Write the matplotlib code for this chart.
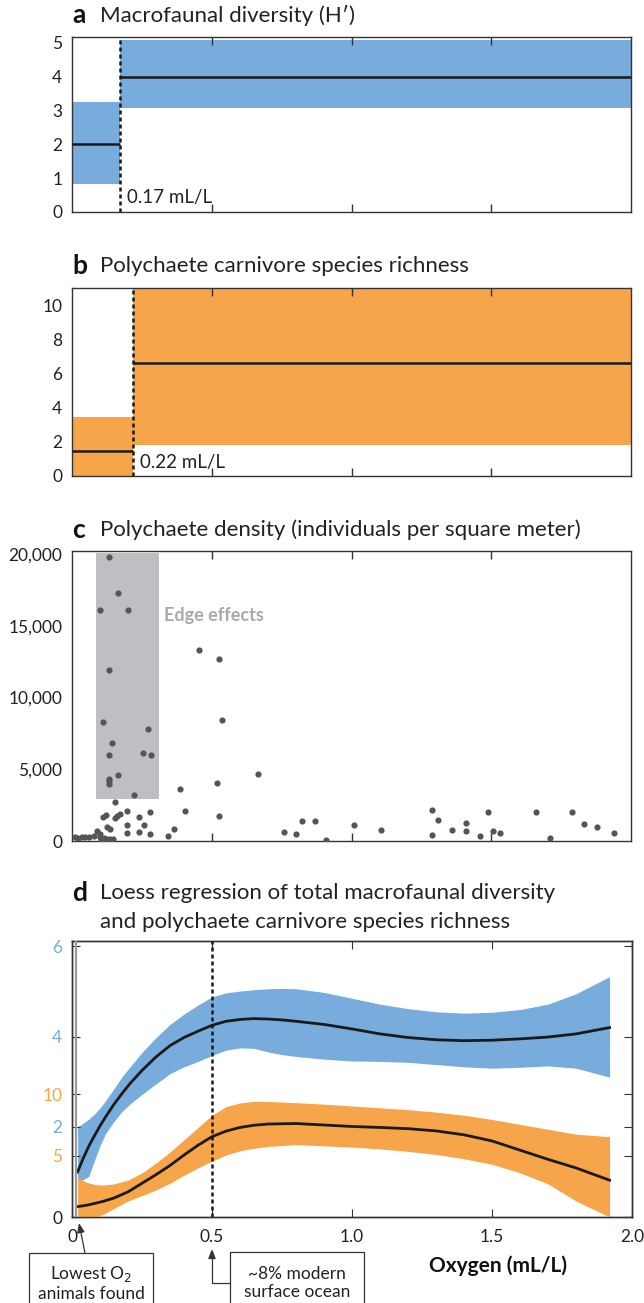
import matplotlib.pyplot as plt

plt.rcParams['font.family'] = ['Lato', 'DejaVu Sans']

W, H = 644, 1303
BLUE = '#78acdc'
ORANGE = '#f7a54a'
GREY_BOX = '#bebfc2'
DOT = '#555555'
AXC = '#333333'
TXT = '#222222'

# ---- panel a: macrofaunal diversity (H'), split at 0.17 mL/L
a_split = 0.17
a_x0 = [0.0, 0.17]
a_x1 = [0.17, 2.0]
a_low = [0.82, 3.08]
a_high = [3.25, 5.09]
a_med = [2.0, 4.0]

# ---- panel b: polychaete carnivore species richness, split at 0.22 mL/L
b_split = 0.22
b_x0 = [0.0, 0.22]
b_x1 = [0.22, 2.0]
b_low = [0.0, 1.8]
b_high = [3.45, 11.0]
b_med = [1.45, 6.6]

# ---- panel c: polychaete density (ind. per m^2)
c_oxy = [0.131, 0.163, 0.101, 0.202, 0.131, 0.112, 0.273, 0.142, 0.133, 0.253,
         0.284, 0.163, 0.133, 0.133, 0.133, 0.222, 0.455, 0.526, 0.536, 0.667,
         0.517, 0.386, 0.405, 0.526, 0.345, 0.365, 0.153, 0.197, 0.279, 0.239,
         0.110, 0.120, 0.155, 0.160, 0.170, 0.197, 0.257, 0.126, 0.135, 0.088,
         0.197, 0.239, 0.279, 0.011, 0.023, 0.035, 0.047, 0.062, 0.077, 0.100,
         0.105, 0.115, 0.125, 0.135, 0.145, 0.100, 0.759, 0.801, 0.822, 0.868,
         0.907, 1.008, 1.107, 1.289, 1.309, 1.289, 1.359, 1.408, 1.408, 1.459,
         1.489, 1.508, 1.530, 1.660, 1.709, 1.790, 1.831, 1.879, 1.939]
c_dens = [19800, 17300, 16100, 16100, 11900, 8300, 7800, 6800, 6000, 6100,
          6000, 4600, 4350, 4150, 3950, 3200, 13300, 12700, 8450, 4700,
          4050, 3600, 2100, 1750, 350, 830, 2750, 2100, 2050, 1670,
          1680, 1800, 1620, 1750, 1880, 1120, 1120, 980, 840, 700,
          560, 650, 490, 250, 200, 250, 250, 280, 350, 300,
          150, 200, 120, 150, 130, 500, 650, 500, 1370, 1370,
          70, 1110, 740, 2130, 1480, 440, 740, 1280, 700, 350,
          2040, 700, 560, 2020, 230, 2000, 1200, 950, 530]
c_edge_x = [0.087, 0.31]
c_edge_y = [2950, 20050]

# ---- panel d: loess fits with confidence bands
# total macrofaunal diversity (left scale, blue)
d_bx = [0.02, 0.04, 0.06, 0.08, 0.1, 0.12, 0.15, 0.18, 0.21, 0.25, 0.3,
        0.35, 0.4, 0.45, 0.5, 0.55, 0.6, 0.65, 0.7, 0.75, 0.8, 0.9,
        1.0, 1.1, 1.2, 1.3, 1.4, 1.5, 1.6, 1.7, 1.8, 1.92]
d_blue = [1.0, 1.3, 1.57, 1.8, 2.02, 2.22, 2.5, 2.75, 2.98, 3.25, 3.55,
          3.8, 3.98, 4.12, 4.25, 4.34, 4.38, 4.4, 4.39, 4.37, 4.34, 4.27,
          4.17, 4.06, 3.98, 3.93, 3.91, 3.92, 3.95, 3.99, 4.06, 4.2]
d_blue_hi = [2.0, 2.08, 2.17, 2.28, 2.42, 2.58, 2.85, 3.12, 3.35, 3.65, 3.98,
             4.27, 4.5, 4.7, 4.88, 4.97, 5.01, 5.04, 5.06, 5.07, 5.06, 4.98,
             4.85, 4.72, 4.62, 4.55, 4.52, 4.54, 4.6, 4.72, 4.95, 5.33]
d_blue_lo = [0.82, 0.83, 0.9, 1.25, 1.58, 1.85, 2.12, 2.35, 2.52, 2.72, 2.95,
             3.18, 3.33, 3.45, 3.58, 3.7, 3.75, 3.74, 3.66, 3.6, 3.56, 3.5,
             3.46, 3.45, 3.43, 3.38, 3.33, 3.3, 3.32, 3.35, 3.3, 3.1]

# polychaete carnivore species richness (orange scale)
d_ox = [0.02, 0.05, 0.08, 0.11, 0.15, 0.2, 0.25, 0.3, 0.35, 0.4, 0.45, 0.5,
        0.55, 0.6, 0.65, 0.7, 0.8, 0.9, 1.0, 1.1, 1.2, 1.3, 1.4, 1.5,
        1.6, 1.7, 1.8, 1.92]
d_orange = [0.85, 0.95, 1.1, 1.27, 1.55, 2.05, 2.75, 3.45, 4.2, 5.05, 5.85, 6.55,
            7.0, 7.3, 7.48, 7.58, 7.62, 7.5, 7.38, 7.3, 7.2, 7.02, 6.7, 6.2,
            5.45, 4.7, 4.0, 3.0]
d_orange_hi = [3.25, 2.85, 2.65, 2.6, 2.7, 3.0, 3.6, 4.4, 5.3, 6.3, 7.3, 8.3,
               9.0, 9.3, 9.42, 9.42, 9.32, 9.2, 9.05, 8.9, 8.75, 8.55, 8.3, 7.95,
               7.55, 7.15, 6.75, 6.55]
d_orange_lo = [0.1, 0.0, 0.0, 0.2, 0.7, 1.3, 1.75, 2.2, 2.75, 3.4, 4.0, 4.55,
               5.05, 5.4, 5.6, 5.75, 5.9, 5.8, 5.7, 5.55, 5.35, 5.1, 4.75, 4.3,
               3.6, 2.7, 1.3, 0.0]

d_xticks = [0, 0.5, 1.0, 1.5, 2.0]
d_xlabels = ['0', '0.5', '1.0', '1.5', '2.0']

TICK_FS = 12.5
TITLE_FS = 16
LETTER_FS = 19


def rect(top, bottom, left=72, right=631):
    return [left / W, 1 - bottom / H, (right - left) / W, (bottom - top) / H]


def ftext(x, y, s, **kw):
    fig.text(x / W, 1 - y / H, s, va='center', **kw)


def title(y, letter, s):
    ftext(72, y, letter, fontsize=LETTER_FS, weight='bold', color='#111111')
    ftext(100, y, s, fontsize=TITLE_FS, color=TXT)


def frame(ax):
    for sp in ax.spines.values():
        sp.set_color(AXC)
        sp.set_linewidth(1.0)
    ax.set_xlim(0, 2.0)
    ax.set_xticks([0.5, 1.0, 1.5])
    ax.tick_params(axis='x', direction='in', top=True, bottom=True,
                   labelbottom=False, length=6, width=1, color=AXC)
    ax.tick_params(axis='y', length=0, pad=7, labelsize=TICK_FS, labelcolor=TXT)


fig = plt.figure(figsize=(W / 100, H / 100), dpi=100)

# panel a
ax = fig.add_axes(rect(37, 212))
frame(ax)
for x0, x1, lo, hi, med in zip(a_x0, a_x1, a_low, a_high, a_med):
    ax.fill_between([x0, x1], lo, hi, color=BLUE, lw=0)
    ax.hlines(med, x0, x1, color='#1a1a1a', lw=1.8, zorder=3)
ax.axvline(a_split, color='#1a1a1a', lw=1.8, dashes=(1.6, 1.2), zorder=4)
ax.set_ylim(0, 5.17)
ax.set_yticks(range(6))
ax.text(a_split + 0.025, 0.42, '0.17 mL/L', fontsize=13.5, va='center', color=TXT)
title(15, 'a', 'Macrofaunal diversity (H\u2032)')

# panel b
ax = fig.add_axes(rect(288, 476))
frame(ax)
for x0, x1, lo, hi, med in zip(b_x0, b_x1, b_low, b_high, b_med):
    ax.fill_between([x0, x1], lo, hi, color=ORANGE, lw=0)
    ax.hlines(med, x0, x1, color='#1a1a1a', lw=1.8, zorder=3)
ax.axvline(b_split, color='#1a1a1a', lw=1.8, dashes=(1.6, 1.2), zorder=4)
ax.set_ylim(0, 11)
ax.set_yticks(range(0, 11, 2))
ax.text(b_split + 0.025, 0.8, '0.22 mL/L', fontsize=13.5, va='center', color=TXT)
title(266, 'b', 'Polychaete carnivore species richness')

# panel c
ax = fig.add_axes(rect(551, 841))
frame(ax)
ax.fill_between(c_edge_x, c_edge_y[0], c_edge_y[1], color=GREY_BOX, lw=0, zorder=1)
ax.scatter(c_oxy, c_dens, s=20, color=DOT, lw=0, zorder=3)
ax.set_ylim(0, 20200)
ax.set_yticks(range(0, 20001, 5000))
ax.set_yticklabels(['0', '5,000', '10,000', '15,000', '20,000'])
ax.text(0.33, 15700, 'Edge effects', fontsize=13, weight='bold',
        color='#a7a9ac', va='center')
title(530, 'c', 'Polychaete density (individuals per square meter)')

# panel d
ax = fig.add_axes(rect(941, 1217, right=632))
ax2 = ax.twinx()
for a_ in (ax, ax2):
    for sp in a_.spines.values():
        sp.set_color(AXC)
        sp.set_linewidth(1.0)
ax.set_xlim(0, 2.0)
ax.fill_between(d_bx, d_blue_lo, d_blue_hi, color=BLUE, lw=0)
ax.plot(d_bx, d_blue, color='#1a1a1a', lw=2)
ax.set_ylim(0, 6.12)
ax2.fill_between(d_ox, d_orange_lo, d_orange_hi, color=ORANGE, lw=0)
ax2.plot(d_ox, d_orange, color='#1a1a1a', lw=2)
ax2.set_ylim(0, 22.5)
ax2.axvline(0.5, color='#1a1a1a', lw=1.8, dashes=(1.6, 1.2), zorder=5)
ax2.axvline(0.013, color='#9a9a9a', lw=1.6, zorder=5)

ax.set_xticks(d_xticks)
ax.set_xticklabels(d_xlabels)
ax.tick_params(axis='x', direction='in', top=True, bottom=True, length=6,
               color=AXC, labelsize=TICK_FS, pad=9, labelcolor=TXT)
ax.set_yticks([0, 2, 4, 6])
ax.tick_params(axis='y', direction='in', left=True, right=True, labelleft=True,
               labelright=False, length=6, color=AXC, labelsize=TICK_FS, pad=7)
for lab, col in zip(ax.get_yticklabels(), [TXT, BLUE, BLUE, BLUE]):
    lab.set_color(col)
ax2.set_yticks([5, 10])
ax2.tick_params(axis='y', direction='in', left=True, right=True, labelleft=True,
                labelright=False, length=6, color=AXC, labelsize=TICK_FS, pad=7,
                labelcolor=ORANGE)

title(893, 'd', 'Loess regression of total macrofaunal diversity')
ftext(100, 922, 'and polychaete carnivore species richness', fontsize=TITLE_FS,
      color=TXT)
ftext(498, 1266, 'Oxygen (mL/L)', fontsize=15, weight='bold', ha='center',
      color='#111111')

arrow = dict(arrowstyle='-|>,head_length=0.45,head_width=0.18', color=AXC, lw=0.9,
             shrinkA=0, shrinkB=0)
ax.annotate('Lowest O$_2$\nanimals found', xy=(0.025, -0.022),
            xycoords=('data', 'axes fraction'), xytext=(91, H - 1283),
            textcoords='figure pixels', ha='center', va='center', fontsize=12.5,
            color=TXT, linespacing=1.2,
            bbox=dict(boxstyle='square,pad=0.5', fc='white', ec=AXC, lw=0.9),
            arrowprops=arrow, annotation_clip=False)
ax.annotate('~8% modern\nsurface ocean', xy=(0.5, -0.116),
            xycoords=('data', 'axes fraction'), xytext=(297, H - 1283),
            textcoords='figure pixels', ha='center', va='center', fontsize=12.5,
            color=TXT, linespacing=1.2,
            bbox=dict(boxstyle='square,pad=0.8', fc='white', ec=AXC, lw=0.9),
            arrowprops=dict(arrow, connectionstyle='angle,angleA=0,angleB=90,rad=0'),
            annotation_clip=False)

plt.savefig('out.png', dpi=100)
